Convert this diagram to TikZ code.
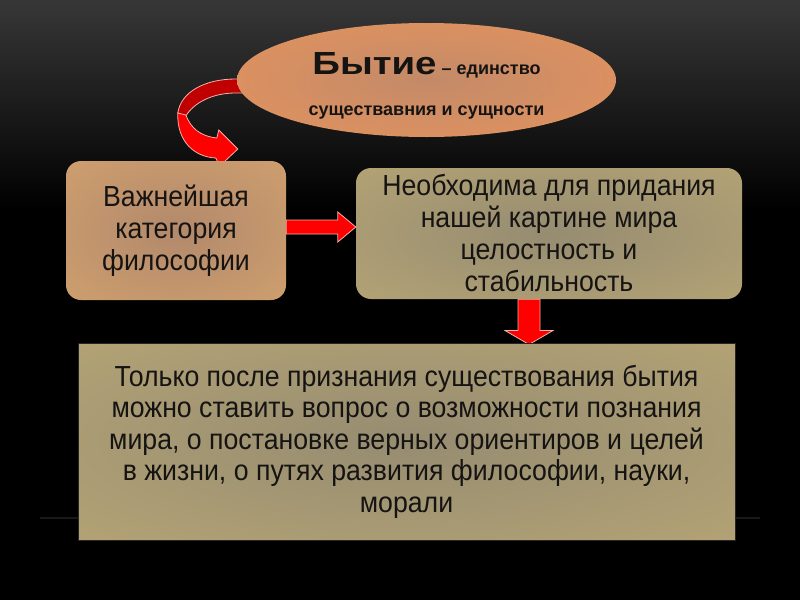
\documentclass[tikz,border=0pt]{standalone}
\usepackage{fontspec}
\setmainfont{Liberation Sans}
\newfontfamily\narrowsans{Liberation Sans}[FakeStretch=0.92]
\usepackage{graphicx}
\usepackage{tikz}
\usetikzlibrary{shapes.geometric}
\usetikzlibrary{calc}
\pgfdeclarelayer{bglayer}
\pgfdeclarelayer{edgelayer}
\pgfdeclarelayer{nodelayer}
\pgfsetlayers{bglayer,edgelayer,nodelayer,main}
\definecolor{slidetop}{HTML}{373737}
\definecolor{ovalout}{HTML}{F2975A}
\definecolor{ovalin}{HTML}{C38A68}
\definecolor{tanout}{HTML}{D9A76E}
\definecolor{tanin}{HTML}{B2896C}
\definecolor{oliveout}{HTML}{BEAB76}
\definecolor{olivein}{HTML}{968C71}
\definecolor{darkred}{HTML}{C00000}
\definecolor{rim}{HTML}{F2B2AA}
\definecolor{ink}{HTML}{161412}
\pgfdeclareradialshading{ovalglow}{\pgfpoint{0bp}{0bp}}{color(0bp)=(ovalin); color(50bp)=(ovalout)}
\pgfdeclareradialshading{tanglow}{\pgfpoint{0bp}{0bp}}{color(0bp)=(tanin); color(50bp)=(tanout)}
\pgfdeclareradialshading{oliveglow}{\pgfpoint{0bp}{0bp}}{color(0bp)=(olivein); color(50bp)=(oliveout)}
\tikzset{oval/.style={ellipse, shading=ovalglow, minimum width=379pt, minimum height=114pt, inner sep=0pt, align=center, text=ink, font=\bfseries\fontsize{18}{35}\selectfont}}
\tikzset{card/.style={rectangle, rounded corners=15pt, minimum width=220pt, minimum height=139pt, align=center, text=ink, font=\narrowsans\fontsize{29}{32}\selectfont}}
\tikzset{slab/.style={rectangle, shading=oliveglow, draw=black!85, line width=1pt, minimum width=657pt, minimum height=197pt, align=center, text=ink, font=\narrowsans\fontsize{29}{31.5}\selectfont}}
\tikzset{blockarrow/.style={fill=red, draw=rim, line width=0.8pt}}
\tikzset{twist/.style={fill=darkred, draw=rim, line width=0.8pt}}

\begin{document}
\begin{tikzpicture}[x=1pt, y=-1pt]
	\useasboundingbox (0,0) rectangle (800,600);
	\begin{pgfonlayer}{bglayer}
		\fill [black] (0,0) rectangle (800,600);
		\shade [top color=slidetop, bottom color=black] (0,0) rectangle (800,210);
		\draw [color=black!90, line width=1.5pt] (40,518) -- (760,518);
	\end{pgfonlayer}
	\begin{pgfonlayer}{nodelayer}
		\node [style=oval] (0) at (426.5, 80) {\rule{0pt}{33pt}\scalebox{1.2}[1]{\fontsize{32}{35}\selectfont Бытие} – единство\\[6pt]
			существавния и сущности};
		\node [style=card, shading=tanglow] (1) at (176, 230.5) {Важнейшая\\категория\\философии};
		\node [style=card, shading=oliveglow, minimum width=386pt, minimum height=131pt] (2) at (549, 233.5) {Необходима для придания\\нашей картине мира\\целостность и\\стабильность};
		\node [style=slab] (3) at (406.5, 441.5) {Только после признания существования бытия\\можно ставить вопрос о возможности познания\\мира, о постановке верных ориентиров и целей\\в жизни, о путях развития философии, науки,\\морали};
	\end{pgfonlayer}
	\begin{pgfonlayer}{edgelayer}
		% curved arrow from the oval down to the first card
		\begin{scope}[shift={(0.west)}]
			\draw [style=twist] (8,-1) -- (-1,-1) .. controls (-32,-1) and (-56,12) .. (-59,33) -- (-51,36) .. controls (-43,23) and (-25,13) .. (-1,13) -- (8,13) -- cycle;
			\draw [style=blockarrow] (-51,35) .. controls (-46,48) and (-37,56) .. (-20,58) -- (-18,50) -- (1,69) -- (-17,86) -- (-21,78) .. controls (-42,77) and (-60,62) .. (-59,33) -- cycle;
		\end{scope}
		% straight arrows
		\coordinate (a) at ($(1.east)+(0,-3.5)$);
		\coordinate (b) at (2.west |- a);
		\draw [style=blockarrow] ($(a)+(0,-7)$) -- ($(b)+(-18,-7)$) -- ($(b)+(-18,-15)$) -- (b) -- ($(b)+(-18,15)$) -- ($(b)+(-18,7)$) -- ($(a)+(0,7)$) -- cycle;
		\coordinate (c) at ($(2.south)+(-20,0)$);
		\coordinate (d) at (3.north -| c);
		\draw [style=blockarrow] ($(c)+(-11,0)$) -- ($(d)+(-11,-12)$) -- ($(d)+(-24,-12)$) -- ($(d)+(0,2)$) -- ($(d)+(24,-12)$) -- ($(d)+(11,-12)$) -- ($(c)+(11,0)$) -- cycle;
	\end{pgfonlayer}
\end{tikzpicture}
\end{document}
